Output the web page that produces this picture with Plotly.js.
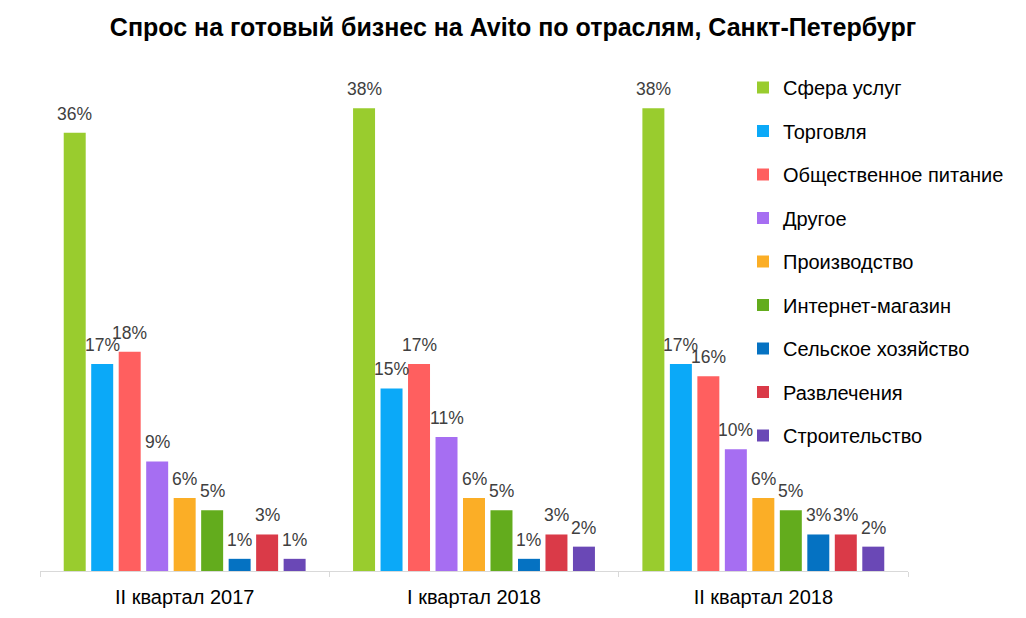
<!DOCTYPE html>
<html>
<head>
<meta charset="utf-8">
<script src="https://cdn.plot.ly/plotly-3.0.1.min.js"></script>
<style>html,body{margin:0;padding:0;background:#fff;}#chart{width:1026px;height:618px;}</style>
</head>
<body>
<div id="chart"></div>
<script>
const categories = ["II квартал 2017", "I квартал 2018", "II квартал 2018"];
const seriesNames = ["Сфера услуг", "Торговля", "Общественное питание", "Другое", "Производство", "Интернет-магазин", "Сельское хозяйство", "Развлечения", "Строительство"];
const seriesColors = ["#99CC2E", "#0BA9F8", "#FF5F5F", "#A66EF2", "#FBAE26", "#63AC1D", "#0572C2", "#DA3A48", "#6A48B6"];
const sferaUslug = [36, 38, 38];
const torgovlya = [17, 15, 17];
const obschPitanie = [18, 17, 16];
const drugoe = [9, 11, 10];
const proizvodstvo = [6, 6, 6];
const internetMagazin = [5, 5, 5];
const selskoeHoz = [1, 1, 3];
const razvlecheniya = [3, 3, 3];
const stroitelstvo = [1, 2, 2];
const seriesValues = [sferaUslug, torgovlya, obschPitanie, drugoe, proizvodstvo, internetMagazin, selskoeHoz, razvlecheniya, stroitelstvo];

const FONT = "Liberation Sans, Arial, sans-serif";
const bargap = 0.145;
const nSeries = seriesValues.length;

const traces = seriesValues.map((vals, j) => ({
  type: "bar",
  name: seriesNames[j],
  x: categories,
  y: vals,
  marker: {color: seriesColors[j]},
  legendgroup: "g" + j,
  hoverinfo: "name+y"
}));

const annotations = [];
const slot = (1 - bargap) / nSeries;
seriesValues.forEach((vals, j) => {
  vals.forEach((v, i) => {
    annotations.push({
      x: i - (1 - bargap) / 2 + (j + 0.5) * slot,
      y: v,
      xref: "x", yref: "y",
      text: v + "%",
      showarrow: false,
      yanchor: "bottom",
      yshift: 7,
      font: {family: FONT, size: 17.5, color: "#404040"}
    });
  });
});

const layout = {
  width: 1026, height: 618,
  margin: {l: 40, r: 118, t: 84, b: 47, autoexpand: false},
  paper_bgcolor: "#fff", plot_bgcolor: "#fff",
  barmode: "group",
  bargap: bargap,
  bargroupgap: 0.2,
  font: {family: FONT, color: "#000"},
  title: {
    text: "<b>Спрос на готовый бизнес на Avito по отраслям, Санкт-Петербург</b>",
    font: {family: FONT, size: 25, color: "#000"},
    x: 0.5, xref: "container", xanchor: "center",
    y: 1 - 27 / 618, yref: "container", yanchor: "middle"
  },
  xaxis: {
    type: "category",
    showline: true, linecolor: "#D9D9D9", linewidth: 1,
    ticks: "outside", tickson: "boundaries", ticklen: 5, tickcolor: "#D9D9D9",
    tickfont: {family: FONT, size: 20, color: "#000"},
    ticklabelstandoff: 8,
    showgrid: false, zeroline: false, fixedrange: true
  },
  yaxis: {
    range: [0, 40], visible: false, showgrid: false, zeroline: false, fixedrange: true
  },
  legend: {
    x: (743 - 40) / 868, xref: "paper", xanchor: "left",
    y: 1 + 16 / 487, yref: "paper", yanchor: "top",
    traceorder: "grouped", tracegroupgap: 14.5,
    maxheight: 520,
    font: {family: FONT, size: 20, color: "#000"},
    bgcolor: "rgba(0,0,0,0)"
  },
  annotations: annotations,
  showlegend: true
};

Plotly.newPlot("chart", traces, layout, {displayModeBar: false, staticPlot: true});
</script>
</body>
</html>
